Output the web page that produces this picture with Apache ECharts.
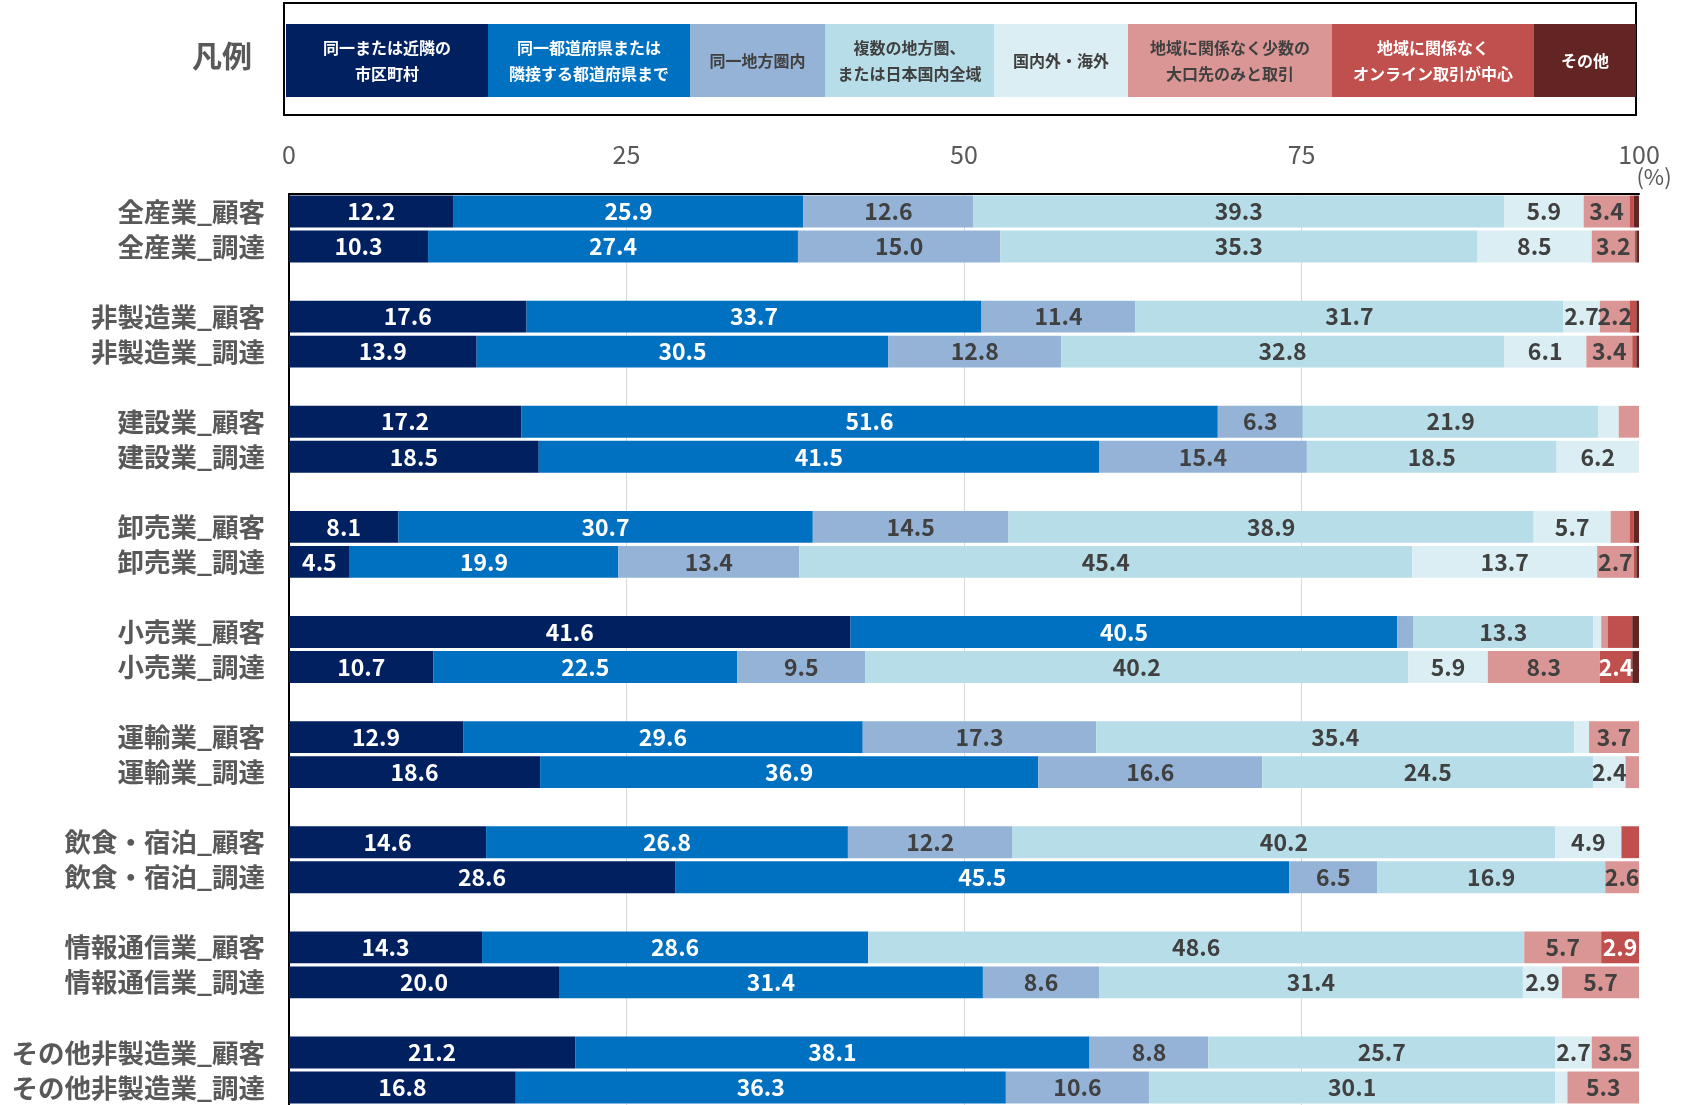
<!DOCTYPE html>
<html>
<head>
<meta charset="utf-8">
<script src="https://cdn.jsdelivr.net/npm/echarts@6/dist/echarts.min.js"></script>
<style>
html,body{margin:0;padding:0;background:#fff;}
#main{width:1682px;height:1105px;}
</style>
</head>
<body>
<div id="main"></div>
<script>
// ---- data ----
const rowLabels = ['全産業_顧客','全産業_調達','非製造業_顧客','非製造業_調達','建設業_顧客','建設業_調達','卸売業_顧客','卸売業_調達','小売業_顧客','小売業_調達','運輸業_顧客','運輸業_調達','飲食・宿泊_顧客','飲食・宿泊_調達','情報通信業_顧客','情報通信業_調達','その他非製造業_顧客','その他非製造業_調達'];
const seriesNames = ['同一または近隣の\n市区町村','同一都道府県または\n隣接する都道府県まで','同一地方圏内','複数の地方圏、\nまたは日本国内全域','国内外・海外','地域に関係なく少数の\n大口先のみと取引','地域に関係なく\nオンライン取引が中心','その他'];
const sNear      = [12.2,10.3,17.6,13.9,17.2,18.5,8.1,4.5,41.6,10.7,12.9,18.6,14.6,28.6,14.3,20.0,21.2,16.8];
const sPref      = [25.9,27.4,33.7,30.5,51.6,41.5,30.7,19.9,40.5,22.5,29.6,36.9,26.8,45.5,28.6,31.4,38.1,36.3];
const sRegion    = [12.6,15.0,11.4,12.8,6.3,15.4,14.5,13.4,1.2,9.5,17.3,16.6,12.2,6.5,0,8.6,8.8,10.6];
const sMulti     = [39.3,35.3,31.7,32.8,21.9,18.5,38.9,45.4,13.3,40.2,35.4,24.5,40.2,16.9,48.6,31.4,25.7,30.1];
const sOverseas  = [5.9,8.5,2.7,6.1,1.5,6.2,5.7,13.7,0.6,5.9,1.1,2.4,4.9,0,0,2.9,2.7,0.9];
const sLarge     = [3.4,3.2,2.2,3.4,1.5,0,1.4,2.7,0.5,8.3,3.7,1.0,0,2.6,5.7,5.7,3.5,5.3];
const sOnline    = [0.3,0.1,0.5,0.3,0,0,0.3,0.2,1.8,2.4,0,0,1.3,0,2.9,0,0,0];
const sOther     = [0.4,0.2,0.2,0.2,0,0,0.4,0.2,0.5,0.5,0,0,0,0,0,0,0,0];
const xTicks = [0,25,50,75,100];

// ---- styling ----
const colors = ['#002060','#0070C0','#95B3D7','#B7DEE8','#DAEEF3','#DA9694','#C0504D','#632523'];
const labelColors = ['#ffffff','#ffffff','#404040','#404040','#404040','#404040','#ffffff','#ffffff'];
const allSeries = [sNear,sPref,sRegion,sMulti,sOverseas,sLarge,sOnline,sOther];
const FONT = '"Noto Sans CJK JP","Noto Sans",sans-serif';

// categories with blank spacer rows between pairs
const cats = [];
const idxMap = [];
rowLabels.forEach((l,i)=>{
  cats.push(l); idxMap.push(i);
  if (i%2===1 && i<rowLabels.length-1){ cats.push(''); idxMap.push(-1); }
});
function buildData(arr){ return idxMap.map(i => i<0 ? '-' : arr[i]); }

const series = allSeries.map((arr,k)=>({
  name: seriesNames[k],
  type:'bar',
  stack:'total',
  barWidth:'91%',
  data: buildData(arr),
  itemStyle:{color:colors[k]},
  label:{
    show:true, position:'inside',
    color:labelColors[k], fontSize:23, fontWeight:'bold', fontFamily:FONT,
    formatter:p => (typeof p.value==='number' && p.value>=2) ? p.value.toFixed(1) : ''
  },
  emphasis:{disabled:true}
}));

// legend as graphic cells
const cellEdges = [286,488,690,825,994,1128,1332,1534,1636];
const legendGraphics = [
  {type:'rect', shape:{x:284,y:3,width:1352,height:112}, style:{fill:'none',stroke:'#000',lineWidth:2}},
  {type:'text', x:222, y:56, style:{text:'凡例', font:'bold 30px '+FONT, fill:'#595959', align:'center', verticalAlign:'middle'}},
  {type:'text', x:1654, y:177, style:{text:'(%)', font:'22px '+FONT, fill:'#595959', align:'center', verticalAlign:'middle'}}
];
seriesNames.forEach((n,k)=>{
  const x0=cellEdges[k], x1=cellEdges[k+1];
  legendGraphics.push({type:'rect', shape:{x:x0,y:24,width:x1-x0,height:73}, style:{fill:colors[k]}});
  legendGraphics.push({type:'text', x:(x0+x1)/2, y:60.5, style:{text:n, font:'bold 16px '+FONT, lineHeight:26, fill:labelColors[k], align:'center', verticalAlign:'middle'}});
});

const chart = echarts.init(document.getElementById('main'), null, {renderer:'canvas'});
chart.setOption({
  animation:false,
  backgroundColor:'#ffffff',
  grid:{left:289, right:43, top:194, bottom:-5, containLabel:false},
  xAxis:{
    type:'value', position:'top', min:0, max:100, interval:25,
    axisLine:{show:true, lineStyle:{color:'#000', width:2}},
    axisTick:{show:false},
    axisLabel:{color:'#595959', fontSize:25, fontFamily:FONT, margin:27,
      formatter:v => xTicks.indexOf(v)>=0 ? String(v) : ''},
    splitLine:{show:true, showMinLine:false, showMaxLine:false, lineStyle:{color:'#d9d9d9', width:1}}
  },
  yAxis:{
    type:'category', inverse:true, data:cats,
    axisLine:{show:true, lineStyle:{color:'#000', width:2}},
    axisTick:{show:false},
    axisLabel:{color:'#595959', fontSize:26.5, fontWeight:'bold', fontFamily:FONT, margin:24, interval:0}
  },
  graphic:legendGraphics,
  series:series
});
</script>
</body>
</html>
